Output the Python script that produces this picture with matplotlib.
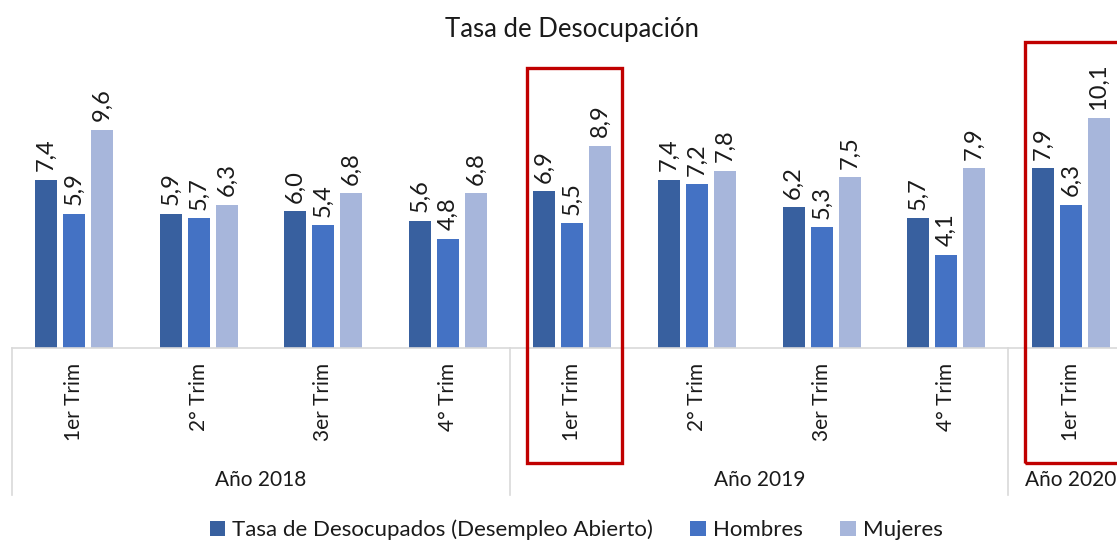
import matplotlib
matplotlib.use("Agg")
import matplotlib.pyplot as plt
import matplotlib.patches as patches
import matplotlib.transforms as transforms

plt.rcParams['font.family'] = ['Lato', 'DejaVu Sans']

trimestres = ["1er Trim", "2° Trim", "3er Trim", "4° Trim",
              "1er Trim", "2° Trim", "3er Trim", "4° Trim",
              "1er Trim"]
anios = ["Año 2018", "Año 2019", "Año 2020"]
trims_por_anio = [4, 4, 1]

tasa = [7.4, 5.9, 6.0, 5.6, 6.9, 7.4, 6.2, 5.7, 7.9]
hombres = [5.9, 5.7, 5.4, 4.8, 5.5, 7.2, 5.3, 4.1, 6.3]
mujeres = [9.6, 6.3, 6.8, 6.8, 8.9, 7.8, 7.5, 7.9, 10.1]

series = ["Tasa de Desocupados (Desempleo Abierto)", "Hombres", "Mujeres"]
colores = ["#38609F", "#4472C4", "#A7B6DB"]

# trimestres resaltados con recuadro rojo
resaltados = [4, 8]

fig = plt.figure(figsize=(11.17, 5.42), dpi=100)
ax = fig.add_axes([0.0105, 0.358, 0.9895, 0.5535])

n = len(trimestres)
x = list(range(n))
ancho = 0.177
paso = 0.225

for k, (vals, nombre, color) in enumerate(zip([tasa, hombres, mujeres], series, colores)):
    pos = [xi + (k - 1) * paso for xi in x]
    ax.bar(pos, vals, width=ancho, color=color, label=nombre, zorder=2)
    for p, v in zip(pos, vals):
        ax.annotate(f"{v:.1f}".replace('.', ','), (p, v), xytext=(0, 6),
                    textcoords='offset points', rotation=90,
                    ha='center', va='bottom', fontsize=17, color='#1a1a1a')

ax.set_xlim(-0.5, 8.371)
ax.set_ylim(0, 13.19)
ax.set_yticks([])
ax.set_xticks(x)
ax.set_xticklabels(trimestres, rotation=90, fontsize=15, color='#1a1a1a')
ax.tick_params(axis='x', length=0, pad=11)
for s in ['top', 'right', 'left']:
    ax.spines[s].set_visible(False)
ax.spines['bottom'].set_color('#D9D9D9')
ax.spines['bottom'].set_linewidth(1.2)

trans = transforms.blended_transform_factory(ax.transData, ax.transAxes)
inicio = -0.5
for anio, cant in zip(anios, trims_por_anio):
    ax.plot([inicio, inicio], [0, -0.49], transform=trans, color='#D9D9D9',
            lw=1.2, clip_on=False)
    centro = inicio + cant / 2
    ax.text(centro, -0.44, anio, transform=trans, ha='center', va='center',
            fontsize=15, color='#1a1a1a')
    inicio += cant

for i in resaltados:
    rect = patches.Rectangle((i - 0.364, -5.05), 0.762, 17.35 + (i - 4) * 0.29,
                             fill=False, edgecolor='#C00000', lw=2.4,
                             clip_on=False, zorder=5)
    ax.add_patch(rect)

fig.text(572 / 1117, 1 - 30 / 542, "Tasa de Desocupación", ha='center',
         va='center', fontsize=18.5, color='#1a1a1a')

fig.legend(loc='center', bbox_to_anchor=(576 / 1117, 12 / 542), ncol=3,
           frameon=False, fontsize=16, handlelength=0.7, handleheight=0.7,
           handletextpad=0.3, columnspacing=1.7, labelcolor='#1a1a1a')

fig.savefig("out.png", dpi=100)
